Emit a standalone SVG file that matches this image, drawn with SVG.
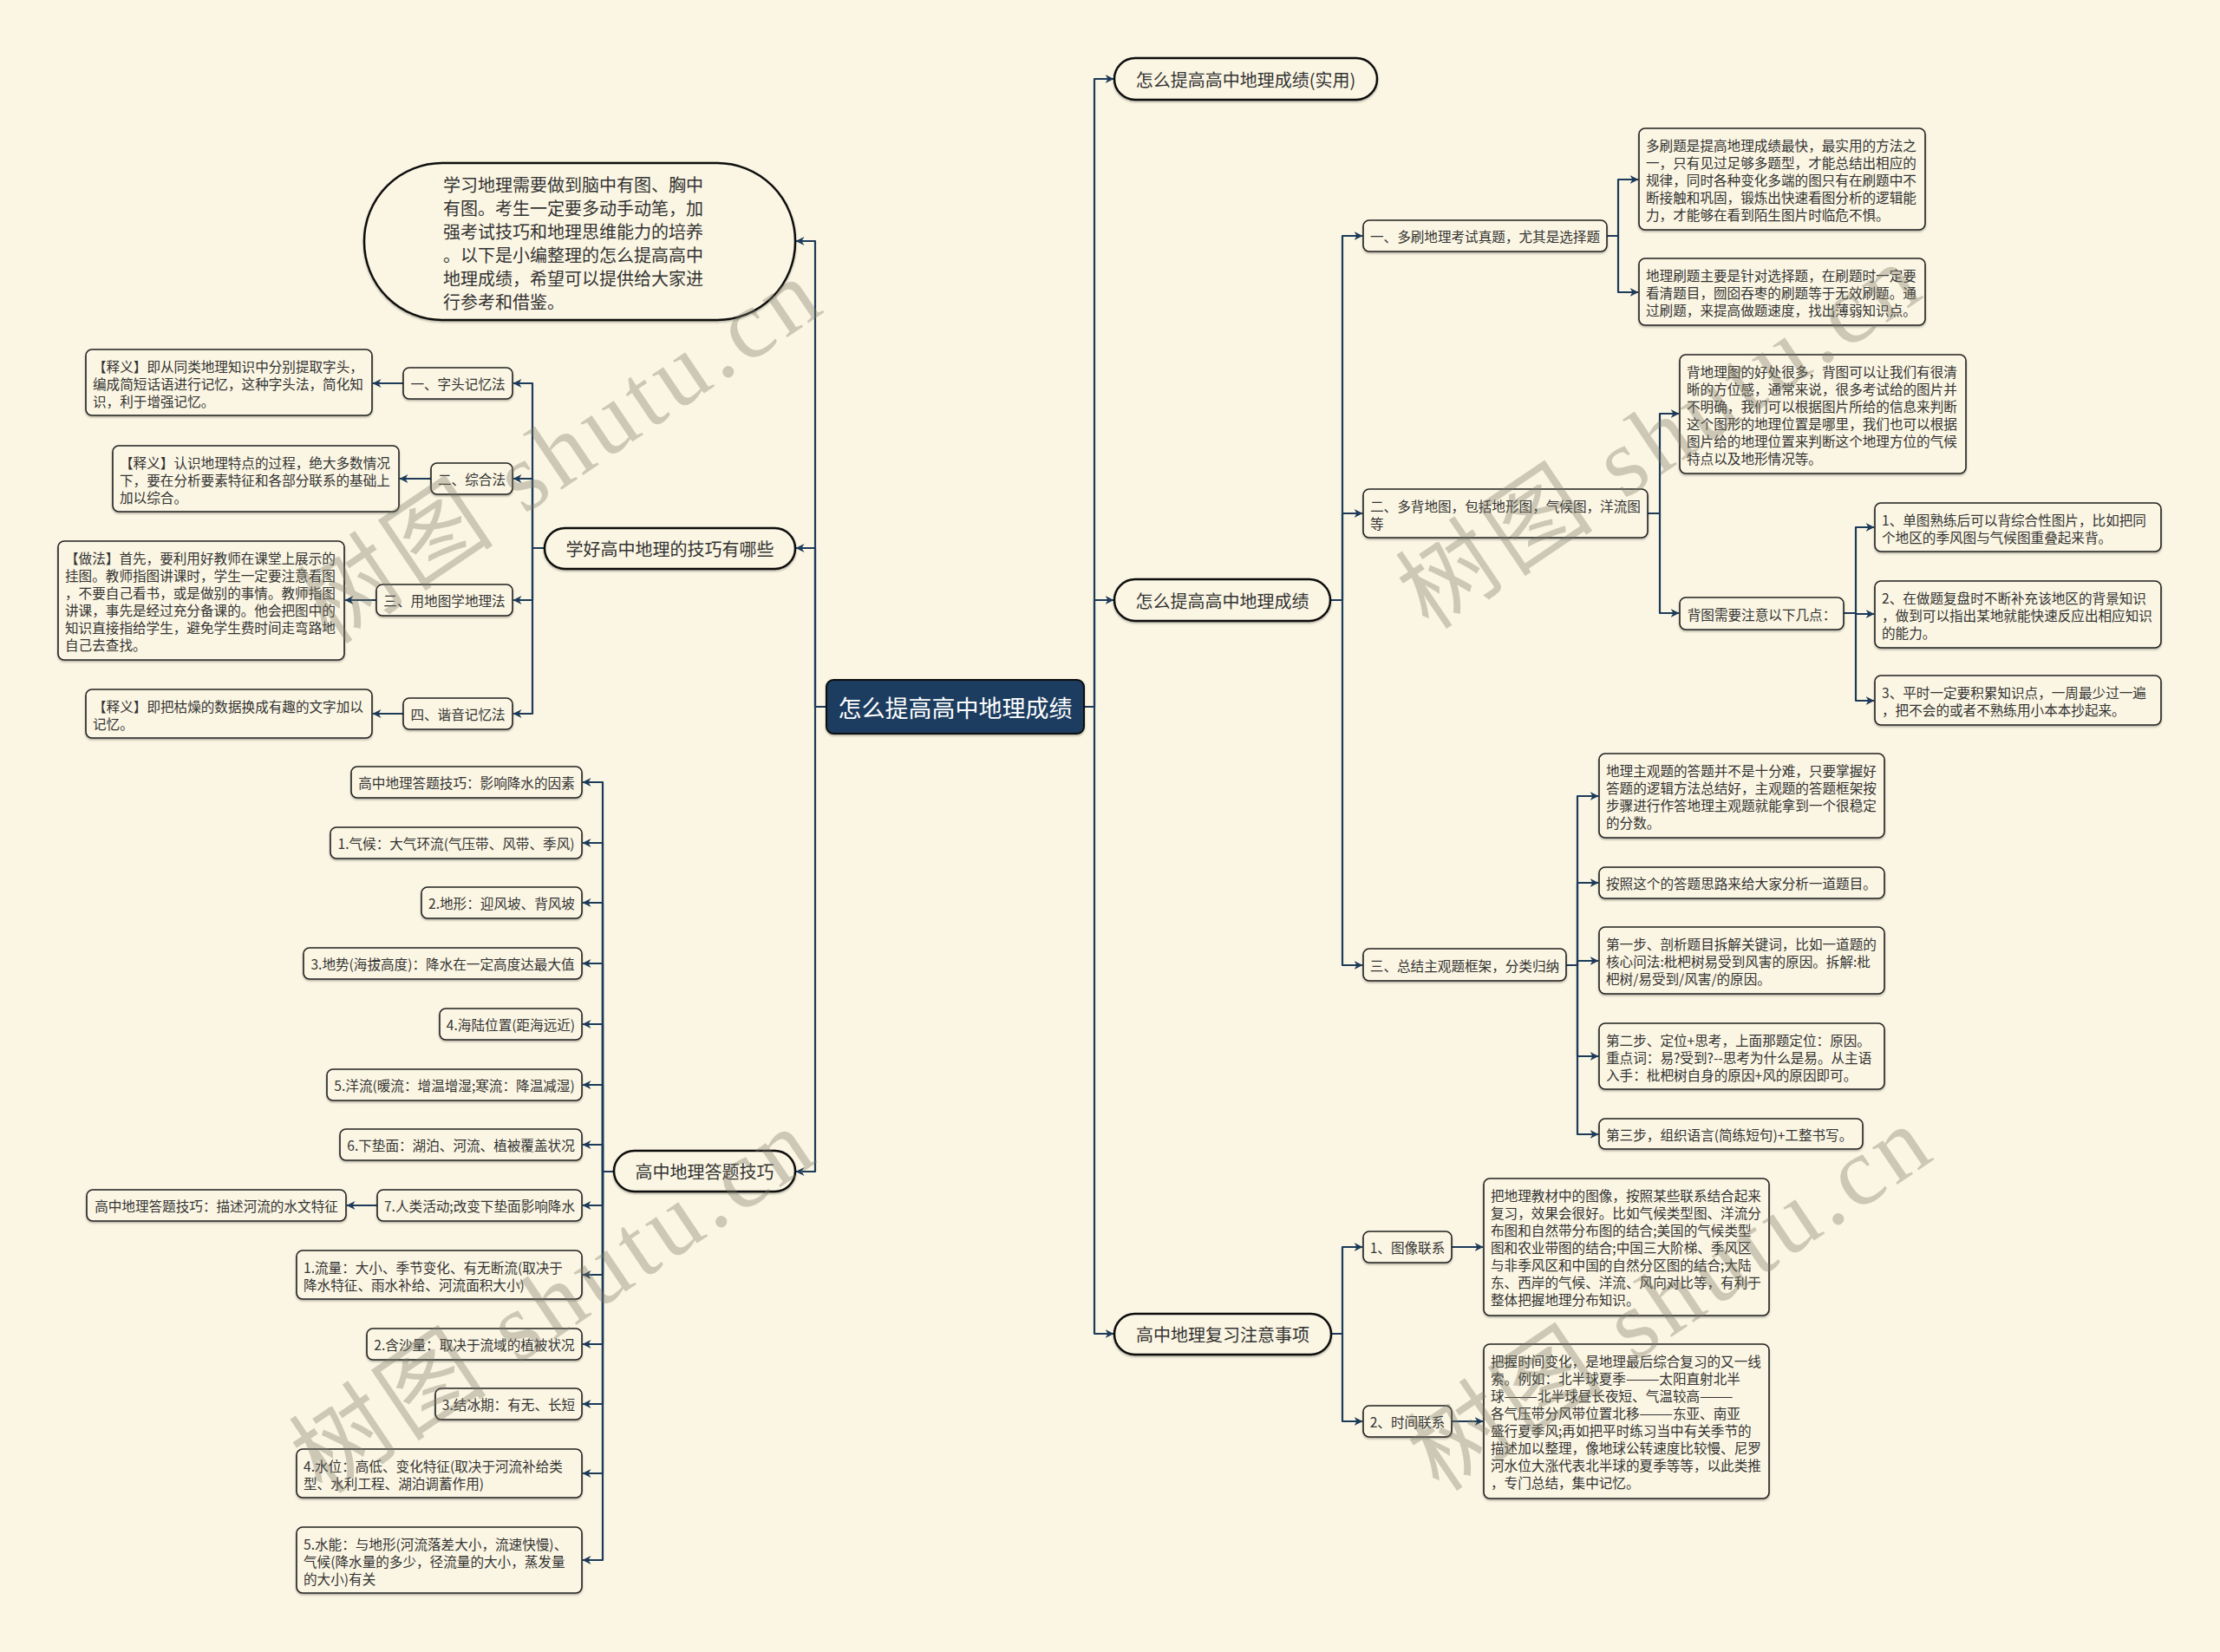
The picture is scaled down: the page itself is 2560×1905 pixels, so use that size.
<svg xmlns="http://www.w3.org/2000/svg" width="2560" height="1905" viewBox="0 0 2560 1905">
<defs>
<style>
text{font-family:"Noto Sans CJK SC","Noto Sans",sans-serif;fill:#333;dominant-baseline:central}
.t1{font-size:20px}
.t2{font-size:15.6px}
.m{text-anchor:middle}
.n1{fill:#FBF6E3;stroke:#111;stroke-width:2.5;filter:url(#sh)}
.n2{fill:#FBF6E3;stroke:#222;stroke-width:1.6;filter:url(#sh)}
.c{fill:none;stroke:#1C3A5A;stroke-width:2.2;stroke-linejoin:round}
.wm{font-family:"Liberation Serif","Noto Sans CJK SC",serif;font-size:112px;fill:#7d7a68;opacity:.36;dominant-baseline:auto}
</style>
<filter id="sh" x="-5%" y="-10%" width="110%" height="130%">
<feDropShadow dx="0" dy="1.5" stdDeviation="0.8" flood-color="#000" flood-opacity="0.3"/>
</filter>
<marker id="a" viewBox="0 0 10 10" refX="9.5" refY="5" markerWidth="10" markerHeight="10" markerUnits="userSpaceOnUse" orient="auto">
<path d="M0,0 L10,5 L0,10 L3,5 z" fill="#1C3A5A"/>
</marker>
</defs>
<rect width="2560" height="1905" fill="#FBF6E3"/>

<g id="connectors">
<path class="c" marker-end="url(#a)" d="M953,815 H940 V278 H918"/>
<path class="c" marker-end="url(#a)" d="M953,815 H940 V632 H918"/>
<path class="c" marker-end="url(#a)" d="M953,815 H940 V1351 H918"/>
<path class="c" marker-end="url(#a)" d="M1250,815 H1262 V91 H1284"/>
<path class="c" marker-end="url(#a)" d="M1250,815 H1262 V692 H1284"/>
<path class="c" marker-end="url(#a)" d="M1250,815 H1262 V1538 H1284"/>
<path class="c" marker-end="url(#a)" d="M628,632 H614 V442 H592"/>
<path class="c" marker-end="url(#a)" d="M628,632 H614 V552 H592"/>
<path class="c" marker-end="url(#a)" d="M628,632 H614 V692 H592"/>
<path class="c" marker-end="url(#a)" d="M628,632 H614 V823 H592"/>
<path class="c" marker-end="url(#a)" d="M465,442 H430"/>
<path class="c" marker-end="url(#a)" d="M497,552 H461"/>
<path class="c" marker-end="url(#a)" d="M434,692 H398"/>
<path class="c" marker-end="url(#a)" d="M465,823 H430"/>
<path class="c" marker-end="url(#a)" d="M708,1351 H695 V902 H672"/>
<path class="c" marker-end="url(#a)" d="M708,1351 H695 V972 H672"/>
<path class="c" marker-end="url(#a)" d="M708,1351 H695 V1041 H672"/>
<path class="c" marker-end="url(#a)" d="M708,1351 H695 V1111 H672"/>
<path class="c" marker-end="url(#a)" d="M708,1351 H695 V1181 H672"/>
<path class="c" marker-end="url(#a)" d="M708,1351 H695 V1251 H672"/>
<path class="c" marker-end="url(#a)" d="M708,1351 H695 V1320 H672"/>
<path class="c" marker-end="url(#a)" d="M708,1351 H695 V1390 H672"/>
<path class="c" marker-end="url(#a)" d="M708,1351 H695 V1470 H672"/>
<path class="c" marker-end="url(#a)" d="M708,1351 H695 V1550 H672"/>
<path class="c" marker-end="url(#a)" d="M708,1351 H695 V1619 H672"/>
<path class="c" marker-end="url(#a)" d="M708,1351 H695 V1699 H672"/>
<path class="c" marker-end="url(#a)" d="M708,1351 H695 V1799 H672"/>
<path class="c" marker-end="url(#a)" d="M435,1390 H400"/>
<path class="c" marker-end="url(#a)" d="M1534,692 H1548 V272 H1571"/>
<path class="c" marker-end="url(#a)" d="M1534,692 H1548 V592 H1571"/>
<path class="c" marker-end="url(#a)" d="M1534,692 H1548 V1113 H1571"/>
<path class="c" marker-end="url(#a)" d="M1853,272 H1866 V207 H1889"/>
<path class="c" marker-end="url(#a)" d="M1853,272 H1866 V337 H1889"/>
<path class="c" marker-end="url(#a)" d="M1900,592 H1914 V477 H1936"/>
<path class="c" marker-end="url(#a)" d="M1900,592 H1914 V707 H1936"/>
<path class="c" marker-end="url(#a)" d="M2126,707 H2140 V608 H2161"/>
<path class="c" marker-end="url(#a)" d="M2126,707 H2140 V708 H2161"/>
<path class="c" marker-end="url(#a)" d="M2126,707 H2140 V808 H2161"/>
<path class="c" marker-end="url(#a)" d="M1806,1113 H1819 V918 H1843"/>
<path class="c" marker-end="url(#a)" d="M1806,1113 H1819 V1018 H1843"/>
<path class="c" marker-end="url(#a)" d="M1806,1113 H1819 V1108 H1843"/>
<path class="c" marker-end="url(#a)" d="M1806,1113 H1819 V1218 H1843"/>
<path class="c" marker-end="url(#a)" d="M1806,1113 H1819 V1308 H1843"/>
<path class="c" marker-end="url(#a)" d="M1535,1538 H1548 V1438 H1571"/>
<path class="c" marker-end="url(#a)" d="M1535,1538 H1548 V1639 H1571"/>
<path class="c" marker-end="url(#a)" d="M1674,1438 H1710"/>
<path class="c" marker-end="url(#a)" d="M1674,1639 H1710"/>
</g>

<g id="root">
<rect x="953" y="784" width="297" height="62" rx="8" fill="#1B3C5E" stroke="#0d0d0d" stroke-width="2" filter="url(#sh)"/>
<text class="m" x="1101.5" y="815" style="font-size:27px;fill:#fff">怎么提高高中地理成绩</text>
</g>

<g id="intro">
<rect class="n1" x="420" y="188" width="497" height="181" rx="90"/>
<text class="t1" x="511" y="212">学习地理需要做到脑中有图、胸中</text>
<text class="t1" x="511" y="239">有图。考生一定要多动手动笔，加</text>
<text class="t1" x="511" y="266">强考试技巧和地理思维能力的培养</text>
<text class="t1" x="511" y="293">。以下是小编整理的怎么提高高中</text>
<text class="t1" x="511" y="320">地理成绩，希望可以提供给大家进</text>
<text class="t1" x="511" y="347">行参考和借鉴。</text>
</g>

<g id="skills">
<rect class="n1" x="628" y="609" width="289" height="47" rx="23.5"/>
<text class="t1 m" x="772.5" y="632.5">学好高中地理的技巧有哪些</text>
</g>
<g id="s1"><rect class="n2" x="465" y="424" width="126" height="36" rx="7"/><text class="t2 m" x="528" y="442">一、字头记忆法</text></g>
<g id="s1d"><rect class="n2" x="99" y="403" width="330" height="76" rx="7"/>
<text class="t2" x="107" y="421.5">【释义】即从同类地理知识中分别提取字头，</text>
<text class="t2" x="107" y="441.5">编成简短话语进行记忆，这种字头法，简化知</text>
<text class="t2" x="107" y="461.5">识，利于增强记忆。</text></g>
<g id="s2"><rect class="n2" x="497" y="534" width="94" height="36" rx="7"/><text class="t2 m" x="544" y="552">二、综合法</text></g>
<g id="s2d"><rect class="n2" x="130" y="514" width="330" height="76" rx="7"/>
<text class="t2" x="138" y="532.5">【释义】认识地理特点的过程，绝大多数情况</text>
<text class="t2" x="138" y="552.5">下，要在分析要素特征和各部分联系的基础上</text>
<text class="t2" x="138" y="572.5">加以综合。</text></g>
<g id="s3"><rect class="n2" x="434" y="674" width="157" height="36" rx="7"/><text class="t2 m" x="512.5" y="692">三、用地图学地理法</text></g>
<g id="s3d"><rect class="n2" x="67" y="624" width="330" height="137" rx="7"/>
<text class="t2" x="75" y="642.5">【做法】首先，要利用好教师在课堂上展示的</text>
<text class="t2" x="75" y="662.5">挂图。教师指图讲课时，学生一定要注意看图</text>
<text class="t2" x="75" y="682.5">，不要自己看书，或是做别的事情。教师指图</text>
<text class="t2" x="75" y="702.5">讲课，事先是经过充分备课的。他会把图中的</text>
<text class="t2" x="75" y="722.5">知识直接指给学生，避免学生费时间走弯路地</text>
<text class="t2" x="75" y="742.5">自己去查找。</text></g>
<g id="s4"><rect class="n2" x="465" y="805" width="126" height="36" rx="7"/><text class="t2 m" x="528" y="823">四、谐音记忆法</text></g>
<g id="s4d"><rect class="n2" x="99" y="795" width="330" height="56" rx="7"/>
<text class="t2" x="107" y="813.5">【释义】即把枯燥的数据换成有趣的文字加以</text>
<text class="t2" x="107" y="833.5">记忆。</text></g>

<g id="answer">
<rect class="n1" x="708" y="1327" width="209" height="47" rx="23.5"/>
<text class="t1 m" x="812.5" y="1350.5">高中地理答题技巧</text>
</g>
<g id="a1"><rect class="n2" x="405" y="884" width="266" height="36" rx="7"/><text class="t2 m" x="538" y="902">高中地理答题技巧：影响降水的因素</text></g>
<g id="a2"><rect class="n2" x="381" y="954" width="290" height="36" rx="7"/><text class="t2 m" x="526" y="972">1.气候：大气环流(气压带、风带、季风)</text></g>
<g id="a3"><rect class="n2" x="486" y="1023" width="185" height="36" rx="7"/><text class="t2 m" x="578.5" y="1041">2.地形：迎风坡、背风坡</text></g>
<g id="a4"><rect class="n2" x="350" y="1093" width="321" height="36" rx="7"/><text class="t2 m" x="510.5" y="1111">3.地势(海拔高度)：降水在一定高度达最大值</text></g>
<g id="a5"><rect class="n2" x="507" y="1163" width="164" height="36" rx="7"/><text class="t2 m" x="589" y="1181">4.海陆位置(距海远近)</text></g>
<g id="a6"><rect class="n2" x="377" y="1233" width="294" height="36" rx="7"/><text class="t2 m" x="524" y="1251">5.洋流(暖流：增温增湿;寒流：降温减湿)</text></g>
<g id="a7"><rect class="n2" x="392" y="1302" width="279" height="36" rx="7"/><text class="t2 m" x="531.5" y="1320">6.下垫面：湖泊、河流、植被覆盖状况</text></g>
<g id="a8"><rect class="n2" x="435" y="1372" width="236" height="36" rx="7"/><text class="t2 m" x="553" y="1390">7.人类活动;改变下垫面影响降水</text></g>
<g id="a8d"><rect class="n2" x="100" y="1372" width="299" height="36" rx="7"/><text class="t2 m" x="249.5" y="1390">高中地理答题技巧：描述河流的水文特征</text></g>
<g id="a9"><rect class="n2" x="342" y="1442" width="329" height="56" rx="7"/>
<text class="t2" x="350" y="1460.5">1.流量：大小、季节变化、有无断流(取决于</text>
<text class="t2" x="350" y="1480.5">降水特征、雨水补给、河流面积大小)</text></g>
<g id="a10"><rect class="n2" x="423" y="1532" width="248" height="36" rx="7"/><text class="t2 m" x="547" y="1550">2.含沙量：取决于流域的植被状况</text></g>
<g id="a11"><rect class="n2" x="502" y="1601" width="169" height="36" rx="7"/><text class="t2 m" x="586.5" y="1619">3.结冰期：有无、长短</text></g>
<g id="a12"><rect class="n2" x="342" y="1671" width="329" height="56" rx="7"/>
<text class="t2" x="350" y="1689.5">4.水位：高低、变化特征(取决于河流补给类</text>
<text class="t2" x="350" y="1709.5">型、水利工程、湖泊调蓄作用)</text></g>
<g id="a13"><rect class="n2" x="342" y="1761" width="329" height="76" rx="7"/>
<text class="t2" x="350" y="1779.5">5.水能：与地形(河流落差大小，流速快慢)、</text>
<text class="t2" x="350" y="1799.5">气候(降水量的多少，径流量的大小，蒸发量</text>
<text class="t2" x="350" y="1819.5">的大小)有关</text></g>

<g id="practical"><rect class="n1" x="1285" y="67" width="303" height="48" rx="24"/><text class="t1 m" x="1436.5" y="91">怎么提高高中地理成绩(实用)</text></g>

<g id="improve"><rect class="n1" x="1285" y="668" width="249" height="48" rx="24"/><text class="t1 m" x="1409.5" y="692">怎么提高高中地理成绩</text></g>
<g id="r1"><rect class="n2" x="1572" y="254" width="281" height="36" rx="7"/><text class="t2 m" x="1712.5" y="272">一、多刷地理考试真题，尤其是选择题</text></g>
<g id="r1a"><rect class="n2" x="1890" y="148" width="330" height="117" rx="7"/>
<text class="t2" x="1898" y="166.5">多刷题是提高地理成绩最快，最实用的方法之</text>
<text class="t2" x="1898" y="186.5">一，只有见过足够多题型，才能总结出相应的</text>
<text class="t2" x="1898" y="206.5">规律，同时各种变化多端的图只有在刷题中不</text>
<text class="t2" x="1898" y="226.5">断接触和巩固，锻炼出快速看图分析的逻辑能</text>
<text class="t2" x="1898" y="246.5">力，才能够在看到陌生图片时临危不惧。</text></g>
<g id="r1b"><rect class="n2" x="1890" y="298" width="330" height="77" rx="7"/>
<text class="t2" x="1898" y="316.5">地理刷题主要是针对选择题，在刷题时一定要</text>
<text class="t2" x="1898" y="336.5">看清题目，囫囵吞枣的刷题等于无效刷题。通</text>
<text class="t2" x="1898" y="356.5">过刷题，来提高做题速度，找出薄弱知识点。</text></g>
<g id="r2"><rect class="n2" x="1572" y="564" width="328" height="56" rx="7"/>
<text class="t2" x="1580" y="582.5">二、多背地图，包括地形图，气候图，洋流图</text>
<text class="t2" x="1580" y="602.5">等</text></g>
<g id="r2a"><rect class="n2" x="1937" y="409" width="330" height="137" rx="7"/>
<text class="t2" x="1945" y="427.5">背地理图的好处很多，背图可以让我们有很清</text>
<text class="t2" x="1945" y="447.5">晰的方位感，通常来说，很多考试给的图片并</text>
<text class="t2" x="1945" y="467.5">不明确，我们可以根据图片所给的信息来判断</text>
<text class="t2" x="1945" y="487.5">这个图形的地理位置是哪里，我们也可以根据</text>
<text class="t2" x="1945" y="507.5">图片给的地理位置来判断这个地理方位的气候</text>
<text class="t2" x="1945" y="527.5">特点以及地形情况等。</text></g>
<g id="r2b"><rect class="n2" x="1937" y="689" width="189" height="37" rx="7"/><text class="t2 m" x="2031.5" y="707.5">背图需要注意以下几点：</text></g>
<g id="r2b1"><rect class="n2" x="2162" y="580" width="330" height="56" rx="7"/>
<text class="t2" x="2170" y="598.5">1、单图熟练后可以背综合性图片，比如把同</text>
<text class="t2" x="2170" y="618.5">个地区的季风图与气候图重叠起来背。</text></g>
<g id="r2b2"><rect class="n2" x="2162" y="670" width="330" height="77" rx="7"/>
<text class="t2" x="2170" y="688.5">2、在做题复盘时不断补充该地区的背景知识</text>
<text class="t2" x="2170" y="708.5">，做到可以指出某地就能快速反应出相应知识</text>
<text class="t2" x="2170" y="728.5">的能力。</text></g>
<g id="r2b3"><rect class="n2" x="2162" y="779" width="330" height="57" rx="7"/>
<text class="t2" x="2170" y="797.5">3、平时一定要积累知识点，一周最少过一遍</text>
<text class="t2" x="2170" y="817.5">，把不会的或者不熟练用小本本抄起来。</text></g>
<g id="r3"><rect class="n2" x="1572" y="1094" width="234" height="37" rx="7"/><text class="t2 m" x="1689" y="1112.5">三、总结主观题框架，分类归纳</text></g>
<g id="r3a"><rect class="n2" x="1844" y="869" width="329" height="97" rx="7"/>
<text class="t2" x="1852" y="887.5">地理主观题的答题并不是十分难，只要掌握好</text>
<text class="t2" x="1852" y="907.5">答题的逻辑方法总结好，主观题的答题框架按</text>
<text class="t2" x="1852" y="927.5">步骤进行作答地理主观题就能拿到一个很稳定</text>
<text class="t2" x="1852" y="947.5">的分数。</text></g>
<g id="r3b"><rect class="n2" x="1844" y="1000" width="329" height="36" rx="7"/><text class="t2" x="1852" y="1018">按照这个的答题思路来给大家分析一道题目。</text></g>
<g id="r3c"><rect class="n2" x="1844" y="1069" width="329" height="77" rx="7"/>
<text class="t2" x="1852" y="1087.5">第一步、剖析题目拆解关键词，比如一道题的</text>
<text class="t2" x="1852" y="1107.5">核心问法:枇杷树易受到风害的原因。拆解:枇</text>
<text class="t2" x="1852" y="1127.5">杷树/易受到/风害/的原因。</text></g>
<g id="r3d"><rect class="n2" x="1844" y="1180" width="329" height="76" rx="7"/>
<text class="t2" x="1852" y="1198.5">第二步、定位+思考，上面那题定位：原因。</text>
<text class="t2" x="1852" y="1218.5">重点词：易?受到?--思考为什么是易。从主语</text>
<text class="t2" x="1852" y="1238.5">入手：枇杷树自身的原因+风的原因即可。</text></g>
<g id="r3e"><rect class="n2" x="1844" y="1290" width="304" height="35" rx="7"/><text class="t2" x="1852" y="1307.5">第三步，组织语言(简练短句)+工整书写。</text></g>

<g id="review"><rect class="n1" x="1285" y="1515" width="250" height="47" rx="23.5"/><text class="t1 m" x="1410" y="1538.5">高中地理复习注意事项</text></g>
<g id="v1"><rect class="n2" x="1572" y="1420" width="102" height="36" rx="7"/><text class="t2 m" x="1623" y="1438">1、图像联系</text></g>
<g id="v1d"><rect class="n2" x="1711" y="1359" width="329" height="158" rx="7"/>
<text class="t2" x="1719" y="1377.5">把地理教材中的图像，按照某些联系结合起来</text>
<text class="t2" x="1719" y="1397.5">复习，效果会很好。比如气候类型图、洋流分</text>
<text class="t2" x="1719" y="1417.5">布图和自然带分布图的结合;美国的气候类型</text>
<text class="t2" x="1719" y="1437.5">图和农业带图的结合;中国三大阶梯、季风区</text>
<text class="t2" x="1719" y="1457.5">与非季风区和中国的自然分区图的结合;大陆</text>
<text class="t2" x="1719" y="1477.5">东、西岸的气候、洋流、风向对比等，有利于</text>
<text class="t2" x="1719" y="1497.5">整体把握地理分布知识。</text></g>
<g id="v2"><rect class="n2" x="1572" y="1621" width="102" height="36" rx="7"/><text class="t2 m" x="1623" y="1639">2、时间联系</text></g>
<g id="v2d"><rect class="n2" x="1711" y="1550" width="329" height="178" rx="7"/>
<text class="t2" x="1719" y="1568.5">把握时间变化，是地理最后综合复习的又一线</text>
<text class="t2" x="1719" y="1588.5">索。例如：北半球夏季———太阳直射北半</text>
<text class="t2" x="1719" y="1608.5">球———北半球昼长夜短、气温较高———</text>
<text class="t2" x="1719" y="1628.5">各气压带分风带位置北移———东亚、南亚</text>
<text class="t2" x="1719" y="1648.5">盛行夏季风;再如把平时练习当中有关季节的</text>
<text class="t2" x="1719" y="1668.5">描述加以整理，像地球公转速度比较慢、尼罗</text>
<text class="t2" x="1719" y="1688.5">河水位大涨代表北半球的夏季等等，以此类推</text>
<text class="t2" x="1719" y="1708.5">，专门总结，集中记忆。</text></g>

<g id="watermarks">
<text class="wm" transform="translate(380,745) rotate(-34)" textLength="690" lengthAdjust="spacing">树图 shutu.cn</text>
<text class="wm" transform="translate(1648,728) rotate(-34)" textLength="690" lengthAdjust="spacing">树图 shutu.cn</text>
<text class="wm" transform="translate(372,1725) rotate(-34)" textLength="690" lengthAdjust="spacing">树图 shutu.cn</text>
<text class="wm" transform="translate(1660,1722) rotate(-34)" textLength="690" lengthAdjust="spacing">树图 shutu.cn</text>
</g>
</svg>
